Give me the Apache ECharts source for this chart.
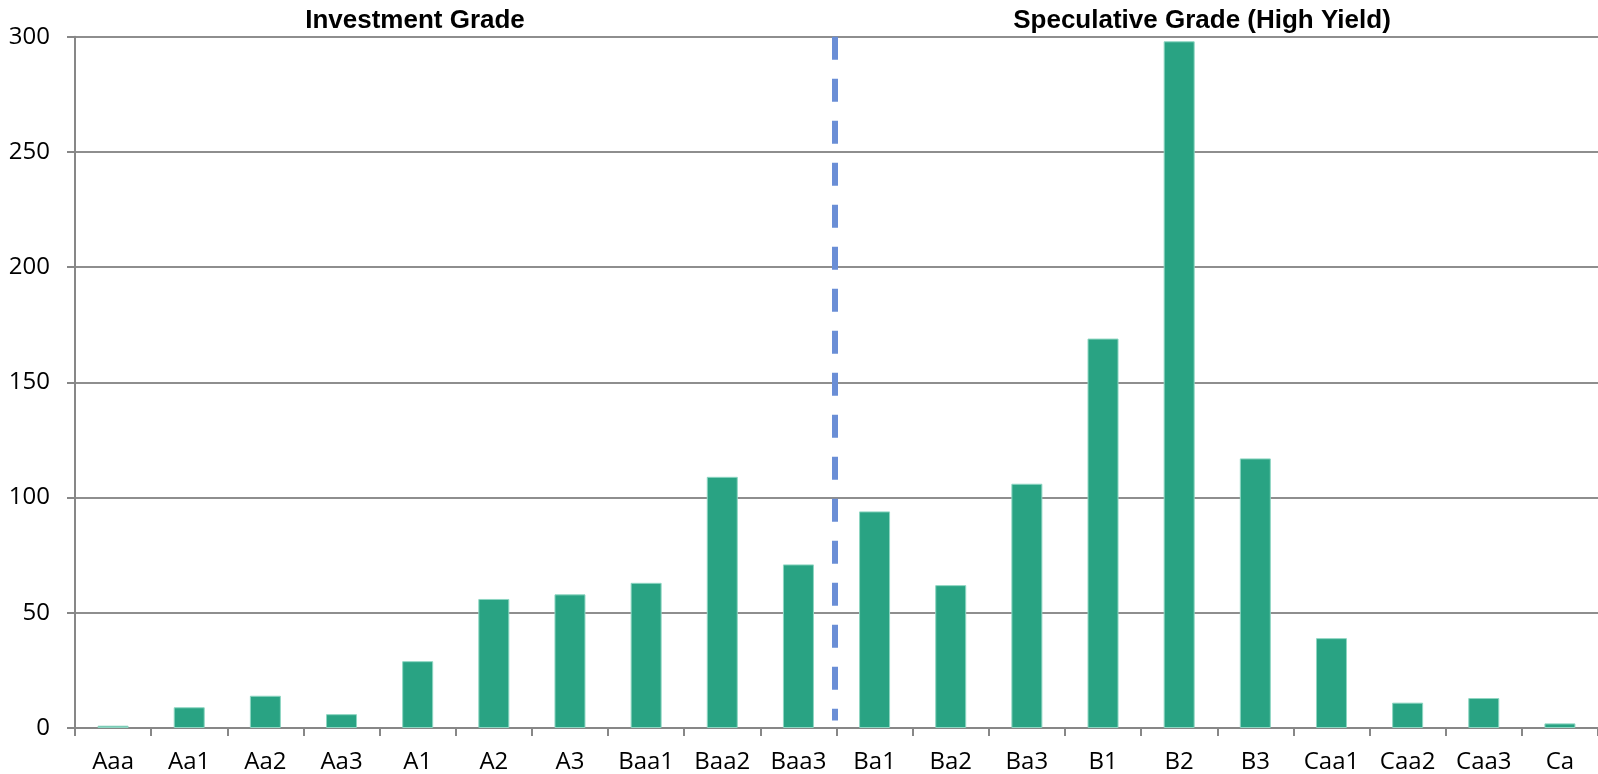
<!DOCTYPE html>
<html>
<head>
<meta charset="utf-8">
<script src="https://cdn.jsdelivr.net/npm/echarts@6/dist/echarts.min.js"></script>
<style>
  html, body { margin: 0; padding: 0; background: #ffffff; }
  #chart { width: 1598px; height: 774px; }
</style>
</head>
<body>
<div id="chart"></div>
<script>
// ---- data ----
const categories = ['Aaa', 'Aa1', 'Aa2', 'Aa3', 'A1', 'A2', 'A3', 'Baa1', 'Baa2', 'Baa3',
                    'Ba1', 'Ba2', 'Ba3', 'B1', 'B2', 'B3', 'Caa1', 'Caa2', 'Caa3', 'Ca'];
const counts = [1, 9, 14, 6, 29, 56, 58, 63, 109, 71,
                94, 62, 106, 169, 298, 117, 39, 11, 13, 2];
const yTicks = [0, 50, 100, 150, 200, 250, 300];
const sectionTitles = ['Investment Grade', 'Speculative Grade (High Yield)'];
// divider between Baa3 and Ba1 (category boundary), from top to near bottom
const dividerX = 9.48;
const dividerY = [300, 3.3];

// ---- chart ----
const chart = echarts.init(document.getElementById('chart'), null, { renderer: 'canvas' });
const axisGray = '#878787';
const labelFont = '"Open Sans", sans-serif';

const option = {
  animation: false,
  backgroundColor: '#ffffff',
  grid: { left: 75, top: 36.7, width: 1527, bottom: 45.7, containLabel: false },
  graphic: [
    {
      type: 'text', x: 415, y: 21,
      style: { text: sectionTitles[0], fill: '#000', font: 'bold 26px "Liberation Sans", Arial, sans-serif',
               align: 'center', verticalAlign: 'middle' }
    },
    {
      type: 'text', x: 1202, y: 21,
      style: { text: sectionTitles[1], fill: '#000', font: 'bold 26px "Liberation Sans", Arial, sans-serif',
               align: 'center', verticalAlign: 'middle' }
    }
  ],
  xAxis: [
    {
      type: 'category',
      data: categories,
      boundaryGap: true,
      axisLine: { show: true, lineStyle: { color: axisGray, width: 2 } },
      axisTick: { show: true, length: 8, inside: false, lineStyle: { color: axisGray, width: 2 } },
      axisLabel: { color: '#000', fontFamily: labelFont, fontSize: 24, margin: 22, interval: 0 },
      splitLine: { show: false }
    },
    {
      type: 'value', min: -0.5, max: categories.length - 0.5, show: false
    }
  ],
  yAxis: {
    type: 'value',
    min: yTicks[0],
    max: yTicks[yTicks.length - 1],
    interval: yTicks[1] - yTicks[0],
    axisLine: { show: true, onZero: false, lineStyle: { color: axisGray, width: 2 } },
    axisTick: { show: true, length: 8, inside: false, lineStyle: { color: axisGray, width: 2 } },
    axisLabel: { color: '#000', fontFamily: labelFont, fontSize: 24, margin: 25 },
    splitLine: { show: true, lineStyle: { color: '#8e8e8e', width: 2 } }
  },
  series: [
    {
      type: 'bar',
      data: counts,
      barWidth: 31,
      itemStyle: { color: '#29a383', borderColor: '#8ed6c2', borderWidth: 1 },
      silent: true
    },
    {
      type: 'line',
      xAxisIndex: 1,
      data: [[dividerX, dividerY[0]], [dividerX, dividerY[1]]],
      symbol: 'none',
      silent: true,
      z: 5,
      lineStyle: { color: '#6a8ed6', width: 6, type: [23, 19], cap: 'butt' }
    }
  ]
};
chart.setOption(option);
</script>
</body>
</html>
